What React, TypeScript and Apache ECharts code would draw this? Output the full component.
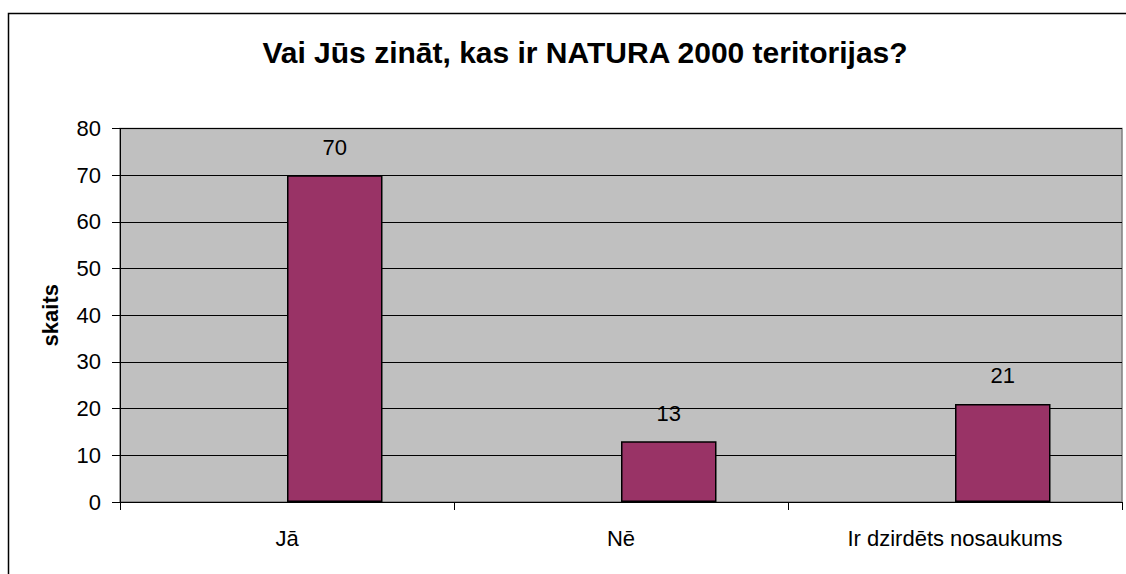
import React, { useEffect, useRef } from "react";
import * as echarts from "echarts";

const categories = ["Jā", "Nē", "Ir dzirdēts nosaukums"];
const emptySeriesValues = ["-", "-", "-"];
const values = [70, 13, 21];
const titleText = "Vai Jūs zināt, kas ir NATURA 2000 teritorijas?";
const yAxisName = "skaits";

export default function App() {
  const ref = useRef<HTMLDivElement>(null);
  useEffect(() => {
    if (!ref.current) return;
    const chart = echarts.init(ref.current, null, { renderer: "svg" });
    const font = "Arial, 'Liberation Sans', sans-serif";
    chart.setOption({
      animation: false,
      backgroundColor: "#ffffff",
      textStyle: { fontFamily: font },
      graphic: [
        {
          type: "rect",
          shape: { x: 8.5, y: 13.5, width: 1300, height: 700 },
          style: { fill: "none", stroke: "#000", lineWidth: 1.5 },
          silent: true,
          z: -1,
        },
      ],
      title: {
        text: titleText,
        left: 580,
        top: 32,
        textAlign: "center",
        textStyle: { fontFamily: font, fontSize: 30, fontWeight: "bold", color: "#000" },
      },
      grid: {
        left: 120,
        top: 128.5,
        width: 1002,
        height: 373.5,
        show: true,
        backgroundColor: "#c0c0c0",
        borderColor: "#808080",
        borderWidth: 1.5,
      },
      xAxis: {
        type: "category",
        data: categories,
        axisLine: { show: true, lineStyle: { color: "#000", width: 1 } },
        axisTick: { show: true, length: 8, lineStyle: { color: "#000" } },
        axisLabel: { color: "#000", fontSize: 22, margin: 25, fontFamily: font },
        splitLine: { show: false },
      },
      yAxis: {
        type: "value",
        min: 0,
        max: 80,
        interval: 10,
        name: yAxisName,
        nameLocation: "middle",
        nameGap: 59,
        nameTextStyle: { fontSize: 22, fontWeight: "bold", color: "#000", fontFamily: font },
        axisLine: { show: true, lineStyle: { color: "#000", width: 1 } },
        axisTick: { show: true, length: 8, lineStyle: { color: "#000" } },
        axisLabel: { color: "#000", fontSize: 22, margin: 19, fontFamily: font },
        splitLine: { show: true, lineStyle: { color: "#000", width: 1 } },
      },
      series: [
        {
          type: "bar",
          data: emptySeriesValues,
          barWidth: 95.5,
          barGap: "0%",
          itemStyle: { color: "#9999ff" },
        },
        {
          type: "bar",
          data: values,
          barWidth: 95.5,
          barGap: "0%",
          itemStyle: { color: "#993366", borderColor: "#000", borderWidth: 1.5 },
          label: {
            show: true,
            position: "top",
            distance: 17,
            color: "#000",
            fontSize: 22,
            fontFamily: font,
          },
        },
      ],
    });
    return () => chart.dispose();
  }, []);
  return (
    <div
      ref={ref}
      style={{ position: "fixed", left: 0, top: 0, width: 1126, height: 574 }}
    />
  );
}
